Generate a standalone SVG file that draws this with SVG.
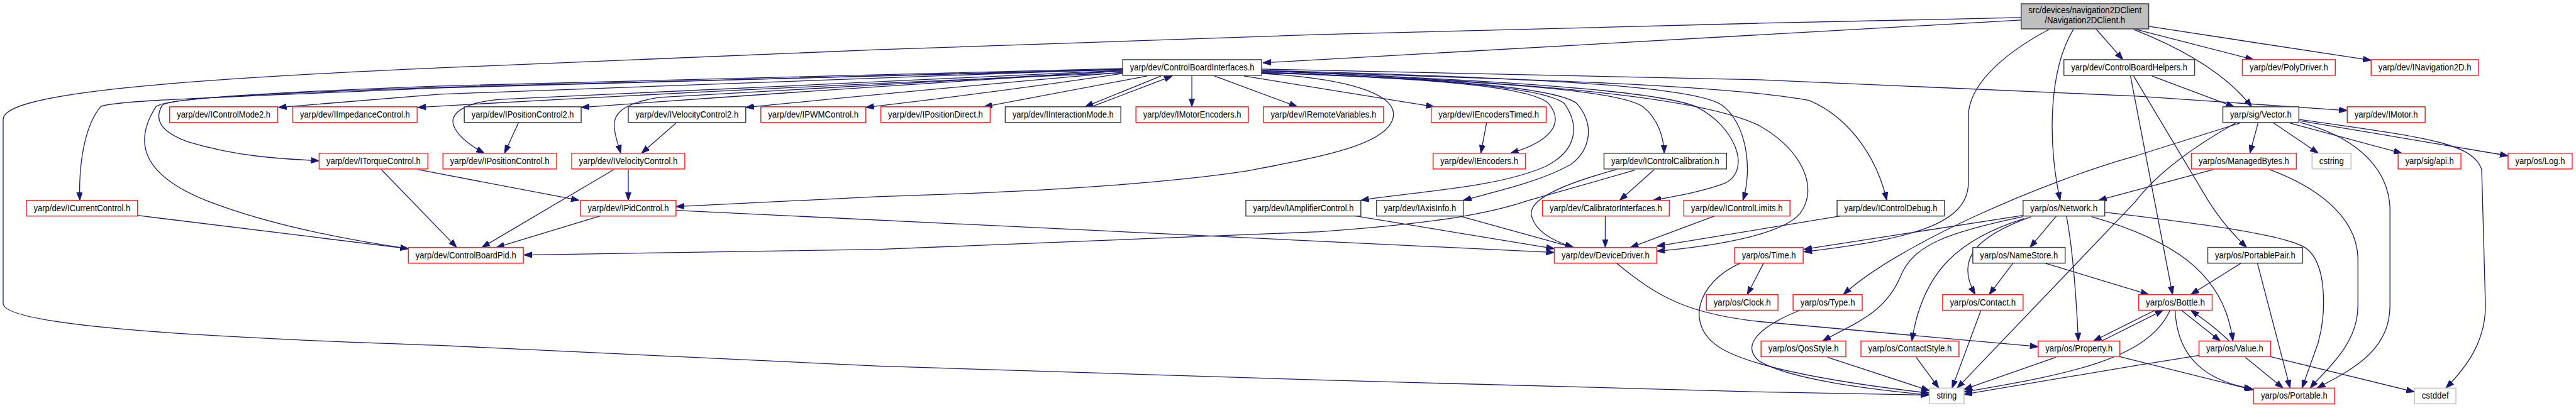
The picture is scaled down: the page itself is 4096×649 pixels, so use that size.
<svg xmlns="http://www.w3.org/2000/svg" width="4096" height="649" viewBox="0 0 4096 649">
<style>
.n rect{fill:#fff;stroke-width:1.5}
.r rect{stroke:#ff2020}
.b rect{stroke:#404040}
.g rect{stroke:#bfbfbf}
text{font-family:"Liberation Sans",Arial,Helvetica,sans-serif;font-size:14px;fill:#000;text-anchor:middle}
#edges path{fill:none;stroke:#191970;stroke-width:1.3;marker-end:url(#a)}
</style>
<defs>
<marker id="a" markerUnits="userSpaceOnUse" viewBox="0 0 13 10" markerWidth="13" markerHeight="10" refX="13" refY="5" orient="auto"><path d="M0,0.4 L13,5 L0,9.6 z" fill="#191970" stroke="#191970" stroke-width="1"/></marker>
</defs>
<rect width="4096" height="649" fill="#fff"/>
<g transform="scale(0.999)">
<g id="edges">
<path d="M3217,32 L2010,100"/>
<path d="M3217,28 L2800,37 L2100,55 L1400,79 L700,108 C250,128 5,150 5,190 L5,483 C5,515 250,535 700,550 L1400,583 L2100,605 L2800,624 L3070,629"/>
<path d="M3336,46 L3379,95"/>
<path d="M3300,47 C3262,110 3258,220 3279,319"/>
<path d="M3261,47 C3180,90 3133,140 3133,185 L3133,290 C3133,355 3050,380 2871,401"/>
<path d="M3400,47 L3587,95"/>
<path d="M3420,42 L3774,96"/>
<path d="M3396,47 C3480,80 3545,120 3584,170"/>
<path d="M3425,121 L3556,170"/>
<path d="M3391,121 L3458,469"/>
<path d="M3396,121 L3515,320 Q3540,360 3576,394"/>
<path d="M3594,196 L3581,244"/>
<path d="M3619,196 L3690,244"/>
<path d="M3645,196 L3823,244"/>
<path d="M3659,192 L3992,248"/>
<path d="M3659,190 C3850,218 3935,225 3950,270 L3956,487 C3956,545 3925,585 3893,618"/>
<path d="M3661,195 C3740,215 3800,260 3804,330 L3804,487 C3804,560 3740,590 3688,618"/>
<path d="M3565,196 L3400,248 C3250,290 3020,390 2934,469"/>
<path d="M3558,196 C3480,240 3430,280 3398,322 L3115,618"/>
<path d="M3523,270 L3340,319"/>
<path d="M3612,270 C3680,295 3750,340 3753,410 L3753,487 C3753,550 3700,590 3677,618"/>
<path d="M3220,343 L2871,397"/>
<path d="M3273,344 L3231,394"/>
<path d="M3289,344 C3300,400 3305,480 3308,543"/>
<path d="M3329,345 C3450,380 3540,430 3554,543"/>
<path d="M3350,338 C3520,358 3640,375 3670,395 C3705,420 3702,500 3690,545 L3664,618"/>
<path d="M3233,345 C3150,375 3110,410 3144,469"/>
<path d="M3222,348 C3120,380 3060,430 3043,543"/>
<path d="M3220,345 C3100,370 3045,390 3025,440 C3000,500 2950,515 2901,543"/>
<path d="M3204,419 L3166,469"/>
<path d="M3255,419 L3420,469"/>
<path d="M3567,419 L3487,469"/>
<path d="M3593,419 L3645,618"/>
<path d="M3472,494 L3534,543"/>
<path d="M3548,543 C3530,525 3510,510 3487,494"/>
<path d="M3462,494 C3465,560 3500,605 3585,619"/>
<path d="M3454,494 C3420,570 3300,595 3126,624"/>
<path d="M3430,494 L3332,543"/>
<path d="M3345,543 L3443,494"/>
<path d="M3374,568 L3587,621"/>
<path d="M3272,569 L3126,620"/>
<path d="M3574,569 L3634,618"/>
<path d="M3614,568 L3843,624"/>
<path d="M3500,566 L3400,582 L3126,628"/>
<path d="M2573,419 C2640,475 2690,500 2800,512 L3244,552"/>
<path d="M2807,419 L2781,469"/>
<path d="M2770,419 C2700,450 2680,520 2740,555 C2800,590 2950,612 3071,626"/>
<path d="M2865,494 C2800,520 2770,550 2800,575 C2850,605 2980,620 3071,629"/>
<path d="M2909,569 L3071,622"/>
<path d="M3050,569 L3086,618"/>
<path d="M3153,494 L3107,618"/>
<path d="M2929,344 L2637,392"/>
<path d="M2008,112 C2400,130 2700,150 2800,200 C2870,240 2895,300 2865,340 C2840,370 2750,390 2637,400"/>
<path d="M2008,113 C2400,125 2750,135 2880,160 C2950,190 2990,260 3003,319"/>
<path d="M2008,110 L2800,127 L3400,153 L3736,176"/>
<path d="M2008,112 C2500,125 2700,140 2740,167 C2780,195 2790,270 2774,319"/>
<path d="M2008,113 C2400,128 2640,145 2700,170 C2760,200 2790,270 2745,292 C2710,305 2670,312 2631,319"/>
<path d="M2008,115 C2400,130 2580,145 2615,170 C2640,190 2648,220 2649,244"/>
<path d="M2008,115 C2300,125 2480,140 2510,165 C2540,200 2530,240 2500,262 C2450,290 2380,305 2329,319"/>
<path d="M2008,116 C2300,125 2460,140 2490,165 C2515,200 2510,240 2460,265 C2380,300 2250,305 2166,319"/>
<path d="M2008,116 C2300,125 2440,140 2465,165 C2490,195 2470,225 2404,244"/>
<path d="M1980,121 L2283,170"/>
<path d="M1933,121 L2065,170"/>
<path d="M1897,121 L1897,170"/>
<path d="M2008,117 C2150,125 2215,150 2218,180 C2220,230 2100,250 1980,273 C1800,300 1500,310 1400,313 L1076,329"/>
<path d="M1848,121 L1727,170"/>
<path d="M1737,170 L1866,121"/>
<path d="M1826,121 L1566,170"/>
<path d="M1787,117 Q1600,145 1378,171"/>
<path d="M1787,115 Q1500,140 1187,171"/>
<path d="M1787,113 Q1350,140 925,171"/>
<path d="M1787,113 L1050,155 C985,165 975,185 978,205 C980,222 985,233 988,244"/>
<path d="M1787,112 L800,158 C740,162 715,180 722,200 C728,215 745,230 771,244"/>
<path d="M1787,116 Q1200,140 665,171"/>
<path d="M1787,110 L700,150 L443,171"/>
<path d="M1787,110 L700,140 C350,155 175,160 160,170 C135,200 125,260 127,319"/>
<path d="M1787,111 L700,139 C380,150 260,158 248,170 C210,230 230,280 330,320 C420,355 540,380 650,396"/>
<path d="M1787,109 L700,137 C400,148 265,158 258,168 C245,190 255,210 300,226 C380,250 450,253 508,256"/>
<path d="M607,270 L727,394"/>
<path d="M665,270 L922,319"/>
<path d="M825,196 L803,244"/>
<path d="M1076,196 L1021,244"/>
<path d="M1000,270 L1000,319"/>
<path d="M977,270 L767,394"/>
<path d="M955,344 L790,394"/>
<path d="M1076,335 L2474,402"/>
<path d="M219,343 L650,396"/>
<path d="M2602,271 L2430,320 C2380,337 2300,355 2100,369 L1400,397 L834,406"/>
<path d="M2573,270 C2480,295 2430,320 2438,345 C2445,370 2475,385 2505,394"/>
<path d="M2633,270 L2578,319"/>
<path d="M2158,344 L2474,396"/>
<path d="M2323,344 L2504,394"/>
<path d="M2555,344 L2555,394"/>
<path d="M2729,344 L2595,394"/>
<path d="M2366,196 L2357,244"/>
</g>
<g id="root" class="n b"><rect x="3217" y="6" width="203" height="40" style="fill:#bfbfbf"/><text x="3318.5" y="21.5" textLength="180" lengthAdjust="spacingAndGlyphs">src/devices/navigation2DClient</text><text x="3318.5" y="37" textLength="128" lengthAdjust="spacingAndGlyphs">/Navigation2DClient.h</text></g>
<g id="cbi" class="n b"><rect x="1787" y="95" width="221" height="25"/><text x="1897.5" y="112" textLength="198" lengthAdjust="spacingAndGlyphs">yarp/dev/ControlBoardInterfaces.h</text></g>
<g id="cbh" class="n b"><rect x="3285" y="95" width="208" height="25"/><text x="3389" y="112" textLength="185" lengthAdjust="spacingAndGlyphs">yarp/dev/ControlBoardHelpers.h</text></g>
<g id="polydriver" class="n r"><rect x="3569" y="95" width="148" height="25"/><text x="3643" y="112" textLength="125" lengthAdjust="spacingAndGlyphs">yarp/dev/PolyDriver.h</text></g>
<g id="inav2d" class="n r"><rect x="3774" y="95" width="171" height="25"/><text x="3859.5" y="112" textLength="148" lengthAdjust="spacingAndGlyphs">yarp/dev/INavigation2D.h</text></g>
<g id="icontrolmode2" class="n r"><rect x="270" y="170" width="172" height="25"/><text x="356" y="187" textLength="149" lengthAdjust="spacingAndGlyphs">yarp/dev/IControlMode2.h</text></g>
<g id="iimpedance" class="n r"><rect x="466" y="170" width="198" height="25"/><text x="565" y="187" textLength="175" lengthAdjust="spacingAndGlyphs">yarp/dev/IImpedanceControl.h</text></g>
<g id="iposctrl2" class="n b"><rect x="739" y="170" width="186" height="25"/><text x="832" y="187" textLength="163" lengthAdjust="spacingAndGlyphs">yarp/dev/IPositionControl2.h</text></g>
<g id="ivelctrl2" class="n b"><rect x="1000" y="170" width="187" height="25"/><text x="1093.5" y="187" textLength="164" lengthAdjust="spacingAndGlyphs">yarp/dev/IVelocityControl2.h</text></g>
<g id="ipwm" class="n r"><rect x="1211" y="170" width="167" height="25"/><text x="1294.5" y="187" textLength="144" lengthAdjust="spacingAndGlyphs">yarp/dev/IPWMControl.h</text></g>
<g id="iposdirect" class="n r"><rect x="1402" y="170" width="174" height="25"/><text x="1489" y="187" textLength="151" lengthAdjust="spacingAndGlyphs">yarp/dev/IPositionDirect.h</text></g>
<g id="iinteraction" class="n b"><rect x="1600" y="170" width="184" height="25"/><text x="1692" y="187" textLength="161" lengthAdjust="spacingAndGlyphs">yarp/dev/IInteractionMode.h</text></g>
<g id="imotorenc" class="n r"><rect x="1808" y="170" width="179" height="25"/><text x="1897.5" y="187" textLength="156" lengthAdjust="spacingAndGlyphs">yarp/dev/IMotorEncoders.h</text></g>
<g id="iremotevar" class="n r"><rect x="2011" y="170" width="191" height="25"/><text x="2106.5" y="187" textLength="168" lengthAdjust="spacingAndGlyphs">yarp/dev/IRemoteVariables.h</text></g>
<g id="iencodertimed" class="n r"><rect x="2278" y="170" width="183" height="25"/><text x="2369.5" y="187" textLength="160" lengthAdjust="spacingAndGlyphs">yarp/dev/IEncodersTimed.h</text></g>
<g id="vector" class="n b"><rect x="3538" y="170" width="121" height="25"/><text x="3598.5" y="187" textLength="98" lengthAdjust="spacingAndGlyphs">yarp/sig/Vector.h</text></g>
<g id="imotor" class="n r"><rect x="3736" y="170" width="124" height="25"/><text x="3798" y="187" textLength="101" lengthAdjust="spacingAndGlyphs">yarp/dev/IMotor.h</text></g>
<g id="itorque" class="n r"><rect x="508" y="244" width="173" height="25"/><text x="594.5" y="261" textLength="150" lengthAdjust="spacingAndGlyphs">yarp/dev/ITorqueControl.h</text></g>
<g id="iposctrl" class="n r"><rect x="705" y="244" width="181" height="25"/><text x="795.5" y="261" textLength="158" lengthAdjust="spacingAndGlyphs">yarp/dev/IPositionControl.h</text></g>
<g id="ivelctrl" class="n r"><rect x="910" y="244" width="180" height="25"/><text x="1000" y="261" textLength="157" lengthAdjust="spacingAndGlyphs">yarp/dev/IVelocityControl.h</text></g>
<g id="iencoders" class="n r"><rect x="2281" y="244" width="147" height="25"/><text x="2354.5" y="261" textLength="124" lengthAdjust="spacingAndGlyphs">yarp/dev/IEncoders.h</text></g>
<g id="icontrolcalib" class="n b"><rect x="2553" y="244" width="195" height="25"/><text x="2650.5" y="261" textLength="172" lengthAdjust="spacingAndGlyphs">yarp/dev/IControlCalibration.h</text></g>
<g id="managedbytes" class="n r"><rect x="3488" y="244" width="167" height="25"/><text x="3571.5" y="261" textLength="144" lengthAdjust="spacingAndGlyphs">yarp/os/ManagedBytes.h</text></g>
<g id="cstring" class="n g"><rect x="3680" y="244" width="62" height="25"/><text x="3711" y="261" textLength="39" lengthAdjust="spacingAndGlyphs">cstring</text></g>
<g id="sigapi" class="n r"><rect x="3817" y="244" width="100" height="25"/><text x="3867" y="261" textLength="77" lengthAdjust="spacingAndGlyphs">yarp/sig/api.h</text></g>
<g id="log" class="n r"><rect x="3992" y="244" width="102" height="25"/><text x="4043" y="261" textLength="79" lengthAdjust="spacingAndGlyphs">yarp/os/Log.h</text></g>
<g id="icurrent" class="n r"><rect x="42" y="319" width="177" height="25"/><text x="130.5" y="336" textLength="154" lengthAdjust="spacingAndGlyphs">yarp/dev/ICurrentControl.h</text></g>
<g id="ipid" class="n r"><rect x="924" y="319" width="152" height="25"/><text x="1000" y="336" textLength="129" lengthAdjust="spacingAndGlyphs">yarp/dev/IPidControl.h</text></g>
<g id="iamplifier" class="n b"><rect x="1983" y="319" width="183" height="25"/><text x="2074.5" y="336" textLength="160" lengthAdjust="spacingAndGlyphs">yarp/dev/IAmplifierControl.h</text></g>
<g id="iaxisinfo" class="n b"><rect x="2191" y="319" width="138" height="25"/><text x="2260" y="336" textLength="115" lengthAdjust="spacingAndGlyphs">yarp/dev/IAxisInfo.h</text></g>
<g id="calibrator" class="n r"><rect x="2455" y="319" width="202" height="25"/><text x="2556" y="336" textLength="179" lengthAdjust="spacingAndGlyphs">yarp/dev/CalibratorInterfaces.h</text></g>
<g id="icontrollimits" class="n r"><rect x="2680" y="319" width="169" height="25"/><text x="2764.5" y="336" textLength="146" lengthAdjust="spacingAndGlyphs">yarp/dev/IControlLimits.h</text></g>
<g id="icontroldebug" class="n b"><rect x="2924" y="319" width="171" height="25"/><text x="3009.5" y="336" textLength="148" lengthAdjust="spacingAndGlyphs">yarp/dev/IControlDebug.h</text></g>
<g id="network" class="n b"><rect x="3220" y="319" width="130" height="25"/><text x="3285" y="336" textLength="107" lengthAdjust="spacingAndGlyphs">yarp/os/Network.h</text></g>
<g id="cbpid" class="n r"><rect x="650" y="394" width="183" height="25"/><text x="741.5" y="411" textLength="160" lengthAdjust="spacingAndGlyphs">yarp/dev/ControlBoardPid.h</text></g>
<g id="devicedriver" class="n r"><rect x="2474" y="394" width="163" height="25"/><text x="2555.5" y="411" textLength="140" lengthAdjust="spacingAndGlyphs">yarp/dev/DeviceDriver.h</text></g>
<g id="time" class="n r"><rect x="2761" y="394" width="109" height="25"/><text x="2815.5" y="411" textLength="86" lengthAdjust="spacingAndGlyphs">yarp/os/Time.h</text></g>
<g id="namestore" class="n b"><rect x="3140" y="394" width="147" height="25"/><text x="3213.5" y="411" textLength="124" lengthAdjust="spacingAndGlyphs">yarp/os/NameStore.h</text></g>
<g id="portablepair" class="n b"><rect x="3514" y="394" width="151" height="25"/><text x="3589.5" y="411" textLength="128" lengthAdjust="spacingAndGlyphs">yarp/os/PortablePair.h</text></g>
<g id="clock" class="n r"><rect x="2716" y="469" width="114" height="25"/><text x="2773" y="486" textLength="91" lengthAdjust="spacingAndGlyphs">yarp/os/Clock.h</text></g>
<g id="type" class="n r"><rect x="2854" y="469" width="110" height="25"/><text x="2909" y="486" textLength="87" lengthAdjust="spacingAndGlyphs">yarp/os/Type.h</text></g>
<g id="contact" class="n r"><rect x="3092" y="469" width="128" height="25"/><text x="3156" y="486" textLength="105" lengthAdjust="spacingAndGlyphs">yarp/os/Contact.h</text></g>
<g id="bottle" class="n r"><rect x="3404" y="469" width="117" height="25"/><text x="3462.5" y="486" textLength="94" lengthAdjust="spacingAndGlyphs">yarp/os/Bottle.h</text></g>
<g id="qosstyle" class="n r"><rect x="2803" y="543" width="135" height="25"/><text x="2870.5" y="560" textLength="112" lengthAdjust="spacingAndGlyphs">yarp/os/QosStyle.h</text></g>
<g id="contactstyle" class="n r"><rect x="2962" y="543" width="156" height="25"/><text x="3040" y="560" textLength="133" lengthAdjust="spacingAndGlyphs">yarp/os/ContactStyle.h</text></g>
<g id="property" class="n r"><rect x="3244" y="543" width="130" height="25"/><text x="3309" y="560" textLength="107" lengthAdjust="spacingAndGlyphs">yarp/os/Property.h</text></g>
<g id="value" class="n r"><rect x="3500" y="543" width="114" height="25"/><text x="3557" y="560" textLength="91" lengthAdjust="spacingAndGlyphs">yarp/os/Value.h</text></g>
<g id="string" class="n g"><rect x="3071" y="618" width="55" height="25"/><text x="3098.5" y="635" textLength="32" lengthAdjust="spacingAndGlyphs">string</text></g>
<g id="portable" class="n r"><rect x="3587" y="618" width="129" height="25"/><text x="3651.5" y="635" textLength="106" lengthAdjust="spacingAndGlyphs">yarp/os/Portable.h</text></g>
<g id="cstddef" class="n g"><rect x="3843" y="618" width="66" height="25"/><text x="3876" y="635" textLength="43" lengthAdjust="spacingAndGlyphs">cstddef</text></g>
</g>
</svg>
